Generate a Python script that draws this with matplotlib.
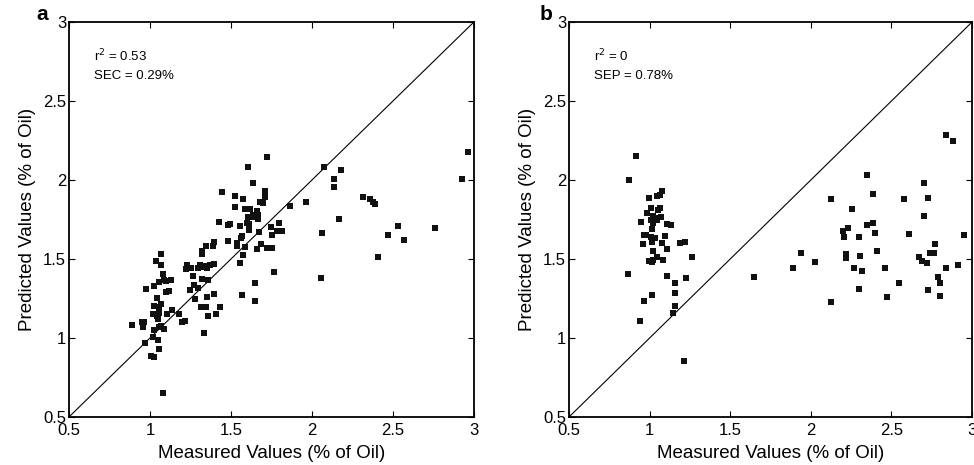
import numpy as np
import matplotlib
matplotlib.use("Agg")
import matplotlib.pyplot as plt

plt.rcParams['font.family'] = ['Liberation Sans', 'DejaVu Sans']

# panel a: calibration set (measured, predicted)
cal_measured = [
    1.724, 1.603, 1.636, 1.447, 1.708, 1.527, 1.572, 1.708, 1.677, 1.698,
    1.963, 1.864, 1.527, 1.588, 1.615, 1.658, 1.637, 1.634, 1.665, 1.605,
    1.667, 1.600, 1.613, 1.428, 1.479, 1.492, 1.556, 1.745, 1.794, 1.613,
    1.673, 1.782, 1.817, 1.755, 1.566, 1.562, 1.481, 1.395, 1.539, 1.344,
    1.387, 1.687, 1.535, 1.586, 1.658, 1.720, 1.755, 1.319, 1.323, 1.574,
    1.068, 1.035, 1.068, 1.556, 1.226, 1.251, 1.220, 1.306, 1.315, 1.346,
    1.372, 1.397, 1.298, 1.350, 1.080, 1.767, 1.265, 1.321, 1.360, 1.058,
    1.084, 1.128, 1.101, 1.027, 0.975, 1.270, 1.298, 1.249, 1.117, 1.097,
    1.646, 1.352, 1.395, 1.278, 1.045, 1.566, 1.646, 1.027, 1.068, 1.058,
    1.317, 1.344, 1.434, 1.138, 1.021, 1.058, 1.107, 1.177, 1.407, 1.041,
    1.047, 1.358, 1.216, 1.198, 0.951, 0.963, 0.889, 0.959, 1.056, 1.066,
    1.025, 1.086, 1.335, 1.016, 0.967, 1.047, 1.058, 1.006, 1.025, 1.082,
    2.074, 2.177, 2.134, 2.134, 2.315, 2.356, 2.375, 2.387, 2.167, 2.064,
    2.533, 2.471, 2.566, 2.761, 2.407, 2.057, 2.926, 2.965,
]
cal_predicted = [
    2.148, 2.085, 1.979, 1.924, 1.930, 1.901, 1.882, 1.890, 1.860, 1.856,
    1.863, 1.835, 1.829, 1.818, 1.818, 1.803, 1.778, 1.763, 1.778, 1.763,
    1.753, 1.725, 1.723, 1.734, 1.717, 1.721, 1.708, 1.704, 1.729, 1.685,
    1.670, 1.679, 1.679, 1.653, 1.643, 1.630, 1.615, 1.609, 1.603, 1.584,
    1.584, 1.596, 1.581, 1.577, 1.564, 1.571, 1.569, 1.548, 1.531, 1.526,
    1.531, 1.486, 1.463, 1.474, 1.465, 1.446, 1.436, 1.465, 1.450, 1.457,
    1.459, 1.469, 1.440, 1.440, 1.408, 1.419, 1.391, 1.374, 1.366, 1.355,
    1.364, 1.366, 1.362, 1.328, 1.311, 1.334, 1.317, 1.307, 1.298, 1.290,
    1.345, 1.260, 1.281, 1.247, 1.252, 1.271, 1.233, 1.205, 1.214, 1.197,
    1.195, 1.195, 1.199, 1.178, 1.154, 1.159, 1.152, 1.154, 1.152, 1.137,
    1.123, 1.137, 1.110, 1.104, 1.099, 1.099, 1.080, 1.070, 1.072, 1.076,
    1.053, 1.059, 1.032, 1.008, 0.968, 0.987, 0.930, 0.886, 0.880, 0.649,
    2.084, 2.063, 2.006, 1.958, 1.890, 1.880, 1.859, 1.846, 1.755, 1.667,
    1.711, 1.650, 1.618, 1.694, 1.511, 1.382, 2.006, 2.177,
]

# panel b: prediction set (measured, predicted)
val_measured = [
    2.839, 2.884, 2.351, 2.702, 2.388, 2.729, 2.125, 2.580, 2.258, 2.702,
    2.388, 2.351, 2.231, 2.198, 2.400, 2.609, 2.948, 2.206, 2.301, 2.769,
    2.411, 2.739, 2.764, 1.939, 2.218, 2.218, 2.307, 2.669, 2.692, 2.721,
    2.911, 2.839, 2.460, 2.026, 1.890, 2.268, 2.318, 1.648, 2.789, 2.802,
    2.549, 2.301, 2.729, 2.471, 2.802, 2.125,
    0.914, 0.874, 1.079, 1.065, 1.046, 0.996, 1.007, 1.066, 1.054, 0.984,
    1.019, 1.035, 1.069, 1.011, 1.048, 1.023, 0.945, 1.106, 1.131, 1.017,
    0.965, 0.978, 1.011, 1.035, 1.096, 1.015, 1.077, 0.961, 1.187, 1.106,
    1.021, 1.046, 0.998, 1.017, 1.023, 1.083, 0.864, 1.106, 1.156, 1.017,
    1.156, 0.963, 1.156, 0.942, 1.215, 1.143, 1.226, 1.263, 1.220,
]
val_predicted = [
    2.283, 2.246, 2.029, 1.984, 1.910, 1.889, 1.878, 1.878, 1.815, 1.771,
    1.731, 1.716, 1.699, 1.680, 1.665, 1.659, 1.655, 1.638, 1.638, 1.592,
    1.552, 1.537, 1.541, 1.541, 1.530, 1.507, 1.520, 1.514, 1.486, 1.473,
    1.463, 1.446, 1.446, 1.484, 1.440, 1.446, 1.423, 1.383, 1.383, 1.349,
    1.349, 1.311, 1.301, 1.261, 1.265, 1.227,
    2.153, 2.001, 1.932, 1.902, 1.900, 1.883, 1.821, 1.821, 1.813, 1.794,
    1.771, 1.762, 1.767, 1.750, 1.750, 1.729, 1.733, 1.720, 1.714, 1.693,
    1.653, 1.655, 1.642, 1.634, 1.646, 1.608, 1.602, 1.596, 1.602, 1.564,
    1.551, 1.515, 1.490, 1.482, 1.492, 1.494, 1.405, 1.390, 1.349, 1.272,
    1.283, 1.232, 1.200, 1.108, 0.856, 1.158, 1.378, 1.514, 1.605,
]

ticks = [0.5, 1, 1.5, 2, 2.5, 3]
tick_labels = ['0.5', '1', '1.5', '2', '2.5', '3']

fig = plt.figure(figsize=(9.74, 4.65), dpi=100)
ax_a = fig.add_axes([0.0708, 0.1032, 0.4158, 0.8495])
ax_b = fig.add_axes([0.5842, 0.1032, 0.4138, 0.8495])

panels = [
    (ax_a, cal_measured, cal_predicted, 'a', 'SEC = 0.29%', '0.53', -0.052),
    (ax_b, val_measured, val_predicted, 'b', 'SEP = 0.78%', '0', -0.04),
]

for ax, xs, ys, letter, err_text, r2, letter_x in panels:
    ax.plot([0.5, 3], [0.5, 3], color='black', linewidth=0.8)
    ax.plot(xs, ys, linestyle='none', marker='s', markersize=4,
            color='#111111', markeredgewidth=0)
    ax.set_xlim(0.5, 3)
    ax.set_ylim(0.5, 3)
    ax.set_xticks(ticks)
    ax.set_xticklabels(tick_labels)
    ax.set_yticks(ticks)
    ax.set_yticklabels(tick_labels)
    ax.tick_params(direction='in', top=True, right=True, labelsize=12,
                   length=4, width=0.8, pad=2)
    ax.tick_params(axis='x', pad=4)
    for s in ax.spines.values():
        s.set_linewidth(1.3)
    ax.set_xlabel('Measured Values (% of Oil)', fontsize=13.5, labelpad=5)
    ax.set_ylabel('Predicted Values (% of Oil)', fontsize=13.5, labelpad=5)
    ax.text(0.062, 0.901, 'r$^2$ = ' + r2, transform=ax.transAxes,
            fontsize=9.5, va='baseline')
    ax.text(0.062, 0.856, err_text, transform=ax.transAxes,
            fontsize=9.5, va='baseline')
    ax.text(letter_x, 1.02, letter, transform=ax.transAxes, fontsize=15,
            fontweight='bold', ha='right', va='center')

fig.savefig('out.png', dpi=100)
